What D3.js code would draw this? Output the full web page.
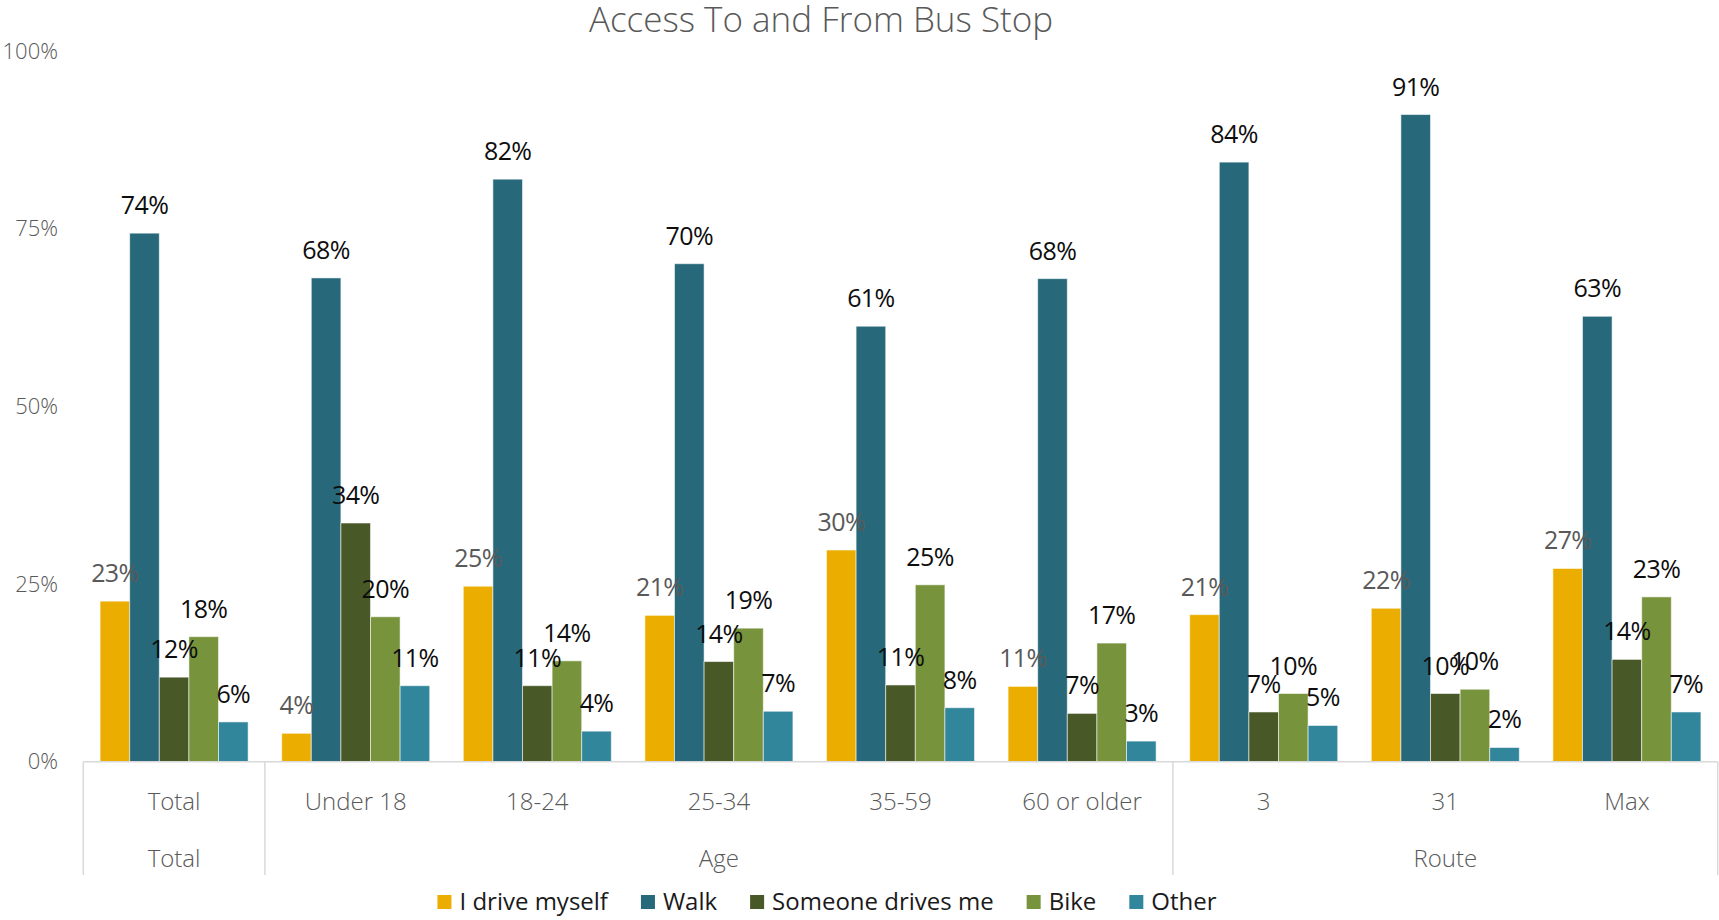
<!DOCTYPE html>
<html>
<head>
<meta charset="utf-8">
<script src="https://cdn.jsdelivr.net/npm/d3@7"></script>
<style>
  html, body { margin: 0; padding: 0; background: #ffffff; }
  svg { display: block; font-family: "Open Sans", "Noto Sans", sans-serif; }
</style>
</head>
<body>
<svg id="chart" width="1719" height="920"></svg>
<script>
// Subgroups (first axis row) and the group each belongs to (second row)
const categories = ["Total", "Under 18", "18-24", "25-34", "35-59", "60 or older", "3", "31", "Max"];
const groups = [
  { name: "Total", from: "Total", to: "Total" },
  { name: "Age", from: "Under 18", to: "60 or older" },
  { name: "Route", from: "3", to: "Max" }
];

const seriesNames = ["I drive myself", "Walk", "Someone drives me", "Bike", "Other"];

// Share of respondents per access mode, one value per category
const driveMyself   = [0.226, 0.040, 0.247, 0.206, 0.298, 0.106, 0.207, 0.216, 0.272];
const walk          = [0.744, 0.681, 0.820, 0.701, 0.613, 0.680, 0.844, 0.911, 0.627];
const someoneDrives = [0.119, 0.336, 0.107, 0.141, 0.108, 0.068, 0.070, 0.096, 0.144];
const bike          = [0.176, 0.204, 0.142, 0.188, 0.249, 0.167, 0.096, 0.102, 0.232];
const other         = [0.056, 0.107, 0.043, 0.071, 0.076, 0.029, 0.051, 0.020, 0.070];

const yTicks = [0, 0.25, 0.5, 0.75, 1];

const seriesValues = [driveMyself, walk, someoneDrives, bike, other];
const colors = ["#EBAE00", "#27697A", "#485827", "#77933C", "#31869C"];
const labelColors = ["#595959", "#0d0d0d", "#0d0d0d", "#0d0d0d", "#0d0d0d"];

const svg = d3.select("#chart");

const plot = { left: 83.3, right: 1717.7, top: 51.3, bottom: 761.7 };

const x0 = d3.scaleBand().domain(categories).range([plot.left, plot.right]).paddingInner(0).paddingOuter(0);
const x1 = d3.scaleBand().domain(seriesNames).range([0, x0.bandwidth()]).paddingInner(0).paddingOuter(0.567);
const y = d3.scaleLinear().domain([0, 1]).range([plot.bottom, plot.top]);

const pct = d3.format(".0%");

// Title
svg.append("text")
  .attr("x", 821).attr("y", 32)
  .attr("text-anchor", "middle")
  .attr("fill", "#595959")
  .attr("font-size", 35)
  .attr("font-weight", 300)
  .text("Access To and From Bus Stop");

// Y axis: labels only, no line or gridlines
const yAxis = d3.axisLeft(y).tickValues(yTicks).tickFormat(d3.format(".0%")).tickSize(0).tickPadding(0);
const yG = svg.append("g").attr("transform", "translate(58,0)").call(yAxis);
yG.select(".domain").remove();
yG.selectAll("text")
  .attr("fill", "#595959")
  .attr("font-size", 22)
  .attr("font-weight", 300)
  .attr("font-family", "'Open Sans', sans-serif");

// Bars
const rows = [];
seriesNames.forEach((s, si) => {
  categories.forEach((c, ci) => {
    rows.push({ series: s, si, category: c, value: seriesValues[si][ci] });
  });
});

svg.append("g").selectAll("rect")
  .data(rows)
  .join("rect")
  .attr("x", d => x0(d.category) + x1(d.series))
  .attr("y", d => y(d.value))
  .attr("width", x1.bandwidth())
  .attr("height", d => y(0) - y(d.value))
  .attr("fill", d => colors[d.si])
  .attr("stroke", "#ffffff")
  .attr("stroke-opacity", 0.55)
  .attr("stroke-width", 1);

// Data labels above each bar
svg.append("g").selectAll("text")
  .data(rows)
  .join("text")
  .attr("x", d => x0(d.category) + x1(d.series) + x1.bandwidth() / 2)
  .attr("y", d => y(d.value) - 19)
  .attr("text-anchor", "middle")
  .attr("fill", d => labelColors[d.si])
  .attr("font-size", 25)
  .attr("font-weight", 400)
  .attr("letter-spacing", -0.6)
  .text(d => pct(d.value));

// Category axis: baseline, separators between groups, two label rows
const axisG = svg.append("g");
axisG.append("line")
  .attr("x1", plot.left).attr("x2", plot.right)
  .attr("y1", y(0)).attr("y2", y(0))
  .attr("stroke", "#D9D9D9").attr("stroke-width", 1.5);

const sepX = [plot.left];
groups.forEach(g => sepX.push(x0(g.to) + x0.bandwidth()));
axisG.selectAll("line.sep")
  .data(sepX)
  .join("line")
  .attr("class", "sep")
  .attr("x1", d => d).attr("x2", d => d)
  .attr("y1", y(0)).attr("y2", 875)
  .attr("stroke", "#D9D9D9").attr("stroke-width", 1.5);

axisG.selectAll("text.cat")
  .data(categories)
  .join("text")
  .attr("class", "cat")
  .attr("x", d => x0(d) + x0.bandwidth() / 2)
  .attr("y", 810)
  .attr("text-anchor", "middle")
  .attr("fill", "#595959")
  .attr("font-size", 24)
  .attr("font-weight", 300)
  .text(d => d);

axisG.selectAll("text.grp")
  .data(groups)
  .join("text")
  .attr("class", "grp")
  .attr("x", g => (x0(g.from) + x0(g.to) + x0.bandwidth()) / 2)
  .attr("y", 867)
  .attr("text-anchor", "middle")
  .attr("fill", "#595959")
  .attr("font-size", 24)
  .attr("font-weight", 300)
  .text(g => g.name);

// Legend, centred under the chart
const legend = svg.append("g");
const items = legend.selectAll("g")
  .data(seriesNames)
  .join("g");
items.append("rect")
  .attr("width", 14).attr("height", 14)
  .attr("y", 895)
  .attr("fill", (d, i) => colors[i]);
items.append("text")
  .attr("x", 22).attr("y", 910)
  .attr("fill", "#1a1a1a")
  .attr("font-size", 24)
  .attr("font-weight", 400)
  .text(d => d);

const gap = 33;
let offset = 0;
const offsets = [];
items.each(function() {
  offsets.push(offset);
  const w = d3.select(this).select("text").node().getComputedTextLength();
  offset += 22 + w + gap;
});
const totalW = offset - gap;
const startX = 827 - totalW / 2;
items.attr("transform", (d, i) => `translate(${startX + offsets[i]},0)`);
</script>
</body>
</html>
